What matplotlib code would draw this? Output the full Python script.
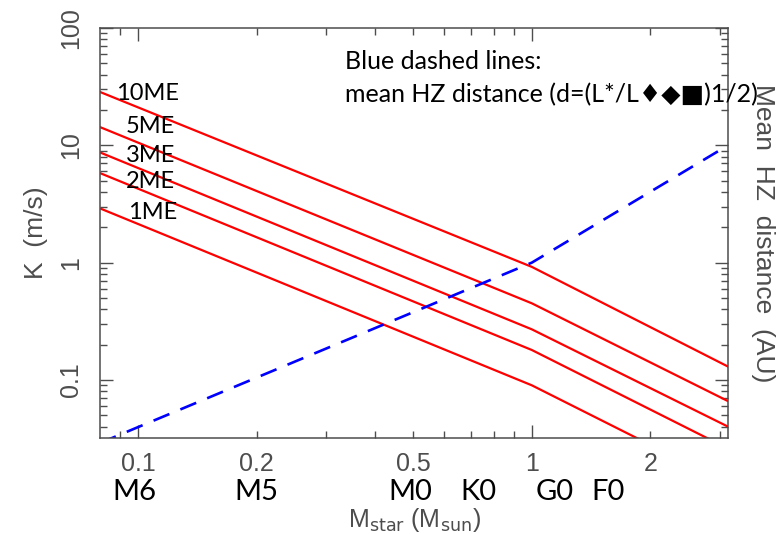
import matplotlib
matplotlib.use('Agg')
import matplotlib.pyplot as plt
from matplotlib.ticker import FixedLocator, FuncFormatter, NullFormatter

# stellar mass grid (M_sun), curves bend at 1 M_sun
mstar = [0.08, 1.0, 3.15]

# RV semi-amplitude K (m/s) for each planet mass
k_10me = [28.5, 0.92, 0.13]
k_5me = [14.3, 0.45, 0.066]
k_3me = [8.7, 0.27, 0.040]
k_2me = [5.8, 0.18, 0.026]
k_1me = [2.9, 0.09, 0.013]

planet_labels = ['10ME', '5ME', '3ME', '2ME', '1ME']
label_x = [0.088, 0.093, 0.093, 0.093, 0.094]
label_y = [27.7, 14.5, 8.2, 4.9, 2.69]

# mean habitable zone distance (AU)
hz_mass = [0.08, 1.0, 3.15]
hz_dist = [0.029, 1.0, 10.0]

# spectral types under the mass axis
sptype = ['M6', 'M5', 'M0', 'K0', 'G0', 'F0']
sptype_mass = [0.098, 0.2, 0.49, 0.73, 1.14, 1.56]

xlabels = {0.1: '0.1', 0.2: '0.2', 0.5: '0.5', 1.0: '1', 2.0: '2'}

grey = '#4d4d4d'
fonts = ['Lato', 'DejaVu Sans']
fig = plt.figure(figsize=(7.84, 5.34), dpi=100)
ax = fig.add_axes([100/784, 1-438/534, 628/784, 410/534])

for k in [k_10me, k_5me, k_3me, k_2me, k_1me]:
    ax.plot(mstar, k, color='#ff0000', lw=1.6)
ax.plot(hz_mass, hz_dist, color='#0000ff', lw=1.9, ls=(0, (6.5, 4.5)))

ax.set_xscale('log')
ax.set_yscale('log')
ax.set_xlim(0.08, 3.15)
ax.set_ylim(0.032, 100)

ax.xaxis.set_major_locator(FixedLocator([0.1, 1.0]))
ax.xaxis.set_minor_locator(FixedLocator([0.09, 0.2, 0.3, 0.4, 0.5, 0.6, 0.7, 0.8, 0.9, 2, 3]))
fmt = FuncFormatter(lambda v, p: xlabels.get(round(v, 3), ''))
ax.xaxis.set_major_formatter(fmt)
ax.xaxis.set_minor_formatter(fmt)
ax.set_yticks([0.1, 1, 10, 100], ['0.1', '1', '10', '100'])
ax.yaxis.set_minor_formatter(NullFormatter())

ax.tick_params(which='both', direction='in', top=True, right=True,
               color=grey, labelcolor=grey, labelsize=18, width=1.0)
ax.tick_params(which='major', length=9.5)
ax.tick_params(which='minor', length=5)
ax.tick_params(axis='x', which='both', pad=10)
ax.tick_params(axis='y', which='both', pad=12, labelrotation=90)
for lab in ax.get_xticklabels(which='both') + ax.get_yticklabels():
    lab.set_family('Liberation Sans')
for lab in ax.get_yticklabels():
    lab.set_va('center')
for s in ax.spines.values():
    s.set_color(grey)
    s.set_linewidth(1.1)

ax.text(0.5, -0.2, r'M$_{\rm star}$ (M$_{\rm sun}$)', transform=ax.transAxes,
        fontsize=18, color=grey, family='Liberation Sans', ha='center', va='center')
ax.set_ylabel('K  (m/s)', fontsize=19, color=grey, family='Liberation Sans', labelpad=8)
ax.text(1.055, 0.5, 'Mean  HZ  distance  (AU)', transform=ax.transAxes, rotation=-90,
        ha='center', va='center', fontsize=19, color=grey, family='Liberation Sans')

for lab, x, y in zip(planet_labels, label_x, label_y):
    ax.text(x, y, lab, fontsize=17, family=fonts, va='center', ha='left')

tr = ax.get_xaxis_transform()
for lab, m in zip(sptype, sptype_mass):
    ax.text(m, -0.132, lab, transform=tr, fontsize=21, family=fonts,
            ha='center', va='center', clip_on=False)

ax.text(0.39, 0.9, 'Blue dashed lines:', transform=ax.transAxes, fontsize=18,
        family=fonts, ha='left', va='baseline')
ax.text(0.39, 0.82, 'mean HZ distance (d=(L*/L\u2666\u25c6\u25a0)1/2)', transform=ax.transAxes,
        fontsize=18, family=fonts, ha='left', va='baseline', clip_on=False)

fig.savefig('out.png', dpi=100)
